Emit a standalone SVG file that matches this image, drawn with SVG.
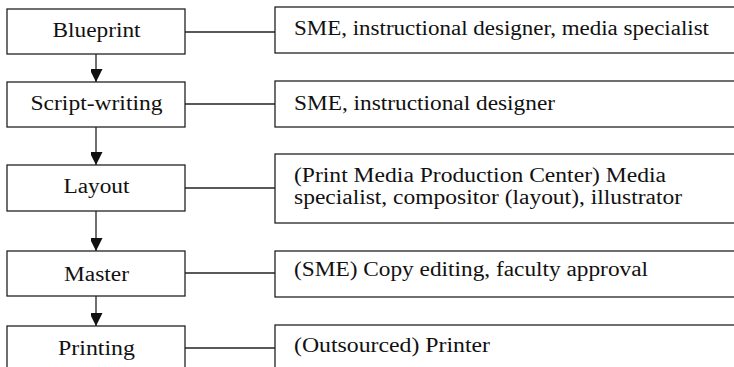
<svg xmlns="http://www.w3.org/2000/svg" width="734" height="367" viewBox="0 0 734 367">
<style>
rect{fill:#fff;stroke:#222;stroke-width:1.3}
.c{stroke:#222;stroke-width:1.3;fill:none}
text{font-family:"Liberation Serif","DejaVu Serif",serif;font-size:20px;fill:#111}
.m{text-anchor:middle}
</style>
<defs>
<marker id="ah" markerWidth="13" markerHeight="12" refX="13" refY="6.5" orient="auto" markerUnits="userSpaceOnUse">
<path d="M0,0 L13,6.5 L0,13 Z" fill="#111"/>
</marker>
</defs>
<rect x="0" y="0" width="734" height="367" style="stroke:none"/>
<g id="connectors">
<line class="c" x1="96" y1="54" x2="96" y2="82" marker-end="url(#ah)"/>
<line class="c" x1="96" y1="127" x2="96" y2="165" marker-end="url(#ah)"/>
<line class="c" x1="96" y1="211" x2="96" y2="251" marker-end="url(#ah)"/>
<line class="c" x1="96" y1="296" x2="96" y2="326" marker-end="url(#ah)"/>
<line class="c" x1="185" y1="32" x2="275" y2="32"/>
<line class="c" x1="185" y1="104" x2="275" y2="104"/>
<line class="c" x1="185" y1="188" x2="275" y2="188"/>
<line class="c" x1="185" y1="273" x2="275" y2="273"/>
<line class="c" x1="185" y1="348" x2="275" y2="348"/>
</g>
<g id="blueprint"><rect x="7" y="9" width="178" height="45"/><text class="m" x="96.5" y="37" textLength="88" lengthAdjust="spacingAndGlyphs">Blueprint</text></g>
<g id="script"><rect x="7" y="82" width="178" height="45"/><text class="m" x="96.5" y="110" textLength="132" lengthAdjust="spacingAndGlyphs">Script-writing</text></g>
<g id="layout"><rect x="7" y="165" width="178" height="46"/><text class="m" x="96.5" y="193" textLength="66" lengthAdjust="spacingAndGlyphs">Layout</text></g>
<g id="master"><rect x="7" y="251" width="178" height="45"/><text class="m" x="96.5" y="281" textLength="65" lengthAdjust="spacingAndGlyphs">Master</text></g>
<g id="printing"><rect x="7" y="326" width="178" height="60"/><text class="m" x="96.5" y="355" textLength="77" lengthAdjust="spacingAndGlyphs">Printing</text></g>
<g id="r1"><rect x="275" y="7" width="470" height="46"/><text x="294" y="35" textLength="415" lengthAdjust="spacingAndGlyphs">SME, instructional designer, media specialist</text></g>
<g id="r2"><rect x="275" y="81" width="470" height="46"/><text x="294" y="110" textLength="261" lengthAdjust="spacingAndGlyphs">SME, instructional designer</text></g>
<g id="r3"><rect x="275" y="154" width="470" height="69"/><text x="294" y="182" textLength="372" lengthAdjust="spacingAndGlyphs">(Print Media Production Center) Media</text><text x="294" y="204" textLength="388" lengthAdjust="spacingAndGlyphs">specialist, compositor (layout), illustrator</text></g>
<g id="r4"><rect x="275" y="251" width="470" height="46"/><text x="294" y="276" textLength="354" lengthAdjust="spacingAndGlyphs">(SME) Copy editing, faculty approval</text></g>
<g id="r5"><rect x="275" y="325" width="470" height="60"/><text x="294" y="352" textLength="196" lengthAdjust="spacingAndGlyphs">(Outsourced) Printer</text></g>
</svg>
